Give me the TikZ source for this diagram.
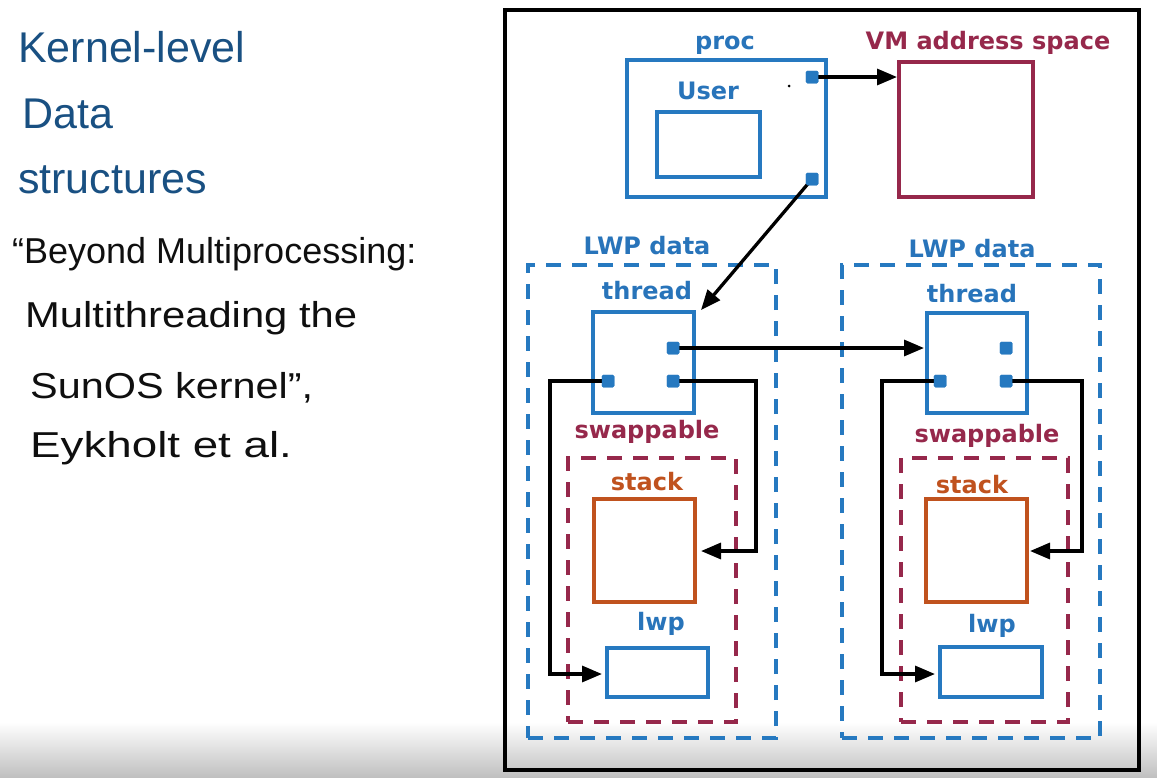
\documentclass[tikz,border=0pt]{standalone}
\usepackage{fontspec}
\setmainfont{DejaVu Sans}
\newfontfamily\handfont{Liberation Sans}
\usetikzlibrary{arrows.meta}
\definecolor{bl}{RGB}{38,121,192}
\definecolor{bltxt}{RGB}{40,116,186}
\definecolor{mar}{RGB}{150,40,75}
\definecolor{org}{RGB}{192,82,30}
\definecolor{hblue}{RGB}{25,80,130}
\definecolor{hblack}{RGB}{15,15,15}
\begin{document}
\begin{tikzpicture}[x=1pt,y=-1pt,
  solidbox/.style={draw=#1, line width=4.8pt, inner sep=0pt, outer sep=0pt},
  dashbox/.style={draw=#1, line width=4.8pt, dash pattern=on 15pt off 11pt, inner sep=0pt, outer sep=0pt},
  sq/.style={fill=bl, rounded corners=1.5pt, minimum size=12.5pt, inner sep=0pt, outer sep=0pt},
  lab/.style={font=\fontsize{24}{28}\selectfont\bfseries, text=#1, inner sep=0pt, anchor=base},
  arr/.style={draw=black, line width=3.3pt, -{Triangle[length=20pt,width=16pt]}},
  hand/.style={font=\handfont\fontsize{#1}{#1}\selectfont, inner sep=0pt, anchor=base west},
]
\useasboundingbox (0,0) rectangle (1157,777);
\shade[top color=white, bottom color={rgb,255:red,192;green,192;blue,192}] (0,722) rectangle (1157,777);

% handwritten notes
\node[hand=43, text=hblue] (t1) at (18,62) {Kernel-level};
\node[hand=43, text=hblue] (t2) at (22,128) {Data};
\node[hand=43, text=hblue] (t3) at (18,193) {structures};
\node[hand=36, text=hblack] (t4) at (12,263) {“Beyond Multiprocessing:};
\node[hand=36, text=hblack] (t5) at (25,327) {\scalebox{1.16}[1]{Multithreading the}};
\node[hand=36, text=hblack] (t6) at (30,398) {\scalebox{1.15}[1]{SunOS kernel”,}};
\node[hand=36, text=hblack] (t7) at (30,457) {\scalebox{1.27}[1]{Eykholt et al.}};

% frame
\node[draw=black, line width=3.5pt, minimum width=634pt, minimum height=760pt, inner sep=0pt] (frame) at (822,390) {};

% proc and VM
\node[lab=bltxt] (proclab) at (725,49) {proc};
\node[lab=mar] (vmlab) at (988,49) {VM address space};
\node[solidbox=bl, minimum width=199pt, minimum height=137pt] (proc) at (726.5,128.5) {};
\node[lab=bltxt] (userlab) at (708,99) {User};
\node[solidbox=bl, minimum width=103pt, minimum height=65pt] (user) at (708.5,144.5) {};
\node[solidbox=mar, minimum width=134pt, minimum height=135pt] (vm) at (966,129.5) {};
\node[sq] (s1) at (812,77) {};
\node[sq] (s2) at (812,179) {};
\fill[black] (789,86) circle (1.5pt);

% left LWP
\node[lab=bltxt] (lwpdL) at (647,254) {LWP data};
\node[dashbox=bl, minimum width=248pt, minimum height=473pt] (lwpL) at (652,501.5) {};
\node[lab=bltxt] (thrlabL) at (647,299) {thread};
\node[solidbox=bl, minimum width=101pt, minimum height=101pt] (thrL) at (643.5,362.5) {};
\node[sq] (a1) at (673,348) {};
\node[sq] (a2) at (673,381) {};
\node[sq] (a3) at (608,381) {};
\node[lab=mar] (swlabL) at (647,438) {swappable};
\node[dashbox=mar, minimum width=168pt, minimum height=264pt] (swL) at (652,590) {};
\node[lab=org] (stlabL) at (647,490) {stack};
\node[solidbox=org, minimum width=101pt, minimum height=103pt] (stL) at (644.5,550.5) {};
\node[lab=bltxt] (lwlabL) at (661,630) {lwp};
\node[solidbox=bl, minimum width=101pt, minimum height=49pt] (lwL) at (657.5,672.5) {};

% right LWP
\node[lab=bltxt] (lwpdR) at (972,257) {LWP data};
\node[dashbox=bl, minimum width=258pt, minimum height=473pt] (lwpR) at (971,501.5) {};
\node[lab=bltxt] (thrlabR) at (972,302) {thread};
\node[solidbox=bl, minimum width=100pt, minimum height=100pt] (thrR) at (977,363) {};
\node[sq] (b1) at (1006,348) {};
\node[sq] (b2) at (1006,381) {};
\node[sq] (b3) at (940,381) {};
\node[lab=mar] (swlabR) at (987,442) {swappable};
\node[dashbox=mar, minimum width=167pt, minimum height=264pt] (swR) at (984.5,590) {};
\node[lab=org] (stlabR) at (972,493) {stack};
\node[solidbox=org, minimum width=101pt, minimum height=103pt] (stR) at (976.5,550.5) {};
\node[lab=bltxt] (lwlabR) at (992,632) {lwp};
\node[solidbox=bl, minimum width=102pt, minimum height=50pt] (lwR) at (991,672) {};

% bend coordinates
\coordinate (pL1) at (756,381);
\coordinate (pL2) at (756,551);
\coordinate (qL1) at (550,381);
\coordinate (qL2) at (550,674);
\coordinate (pR1) at (1082,381);
\coordinate (pR2) at (1082,551);
\coordinate (qR1) at (882,381);
\coordinate (qR2) at (882,674);
\coordinate (thrTip) at (701,310);

% connectors
\draw[arr] (s1.center) -- ([xshift=-2pt]s1.center -| vm.west);
\draw[arr] (s2.center) -- (thrTip);
\draw[arr] (a1.center) -- ([xshift=-3pt]a1.center -| thrR.west);
\draw[arr] (a2.center) -- (pL1) -- (pL2) -- ([xshift=6pt]pL2 -| stL.east);
\draw[arr] (a3.center) -- (qL1) -- (qL2) -- ([xshift=-5pt]qL2 -| lwL.west);
\draw[arr] (b2.center) -- (pR1) -- (pR2) -- ([xshift=3pt]pR2 -| stR.east);
\draw[arr] (b3.center) -- (qR1) -- (qR2) -- ([xshift=-5pt]qR2 -| lwR.west);
% squares on top
\node[sq] at (a1) {}; \node[sq] at (a2) {}; \node[sq] at (a3) {};
\node[sq] at (b1) {}; \node[sq] at (b2) {}; \node[sq] at (b3) {};
\node[sq] at (s1) {}; \node[sq] at (s2) {};
\end{tikzpicture}
\end{document}
